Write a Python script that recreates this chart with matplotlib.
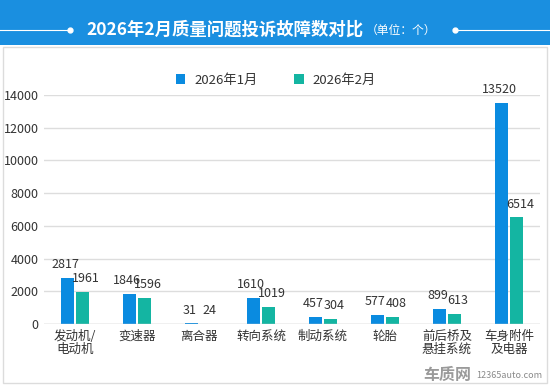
import matplotlib.pyplot as plt
import numpy as np
from matplotlib.patches import Rectangle

plt.rcParams['font.family'] = ['Noto Sans CJK SC', 'DejaVu Sans']

# data
categories = ['发动机/\n电动机', '变速器', '离合器', '转向系统', '制动系统', '轮胎', '前后桥及\n悬挂系统', '车身附件\n及电器']
jan = [2817, 1846, 31, 1610, 457, 577, 899, 13520]
feb = [1961, 1596, 24, 1019, 304, 408, 613, 6514]
series_names = ['2026年1月', '2026年2月']
yticks = [0, 2000, 4000, 6000, 8000, 10000, 12000, 14000]

c_jan = '#0a8be0'
c_feb = '#14b5a2'
txt = '#333333'

fig = plt.figure(figsize=(5.5, 3.86), dpi=100)
fig.patch.set_facecolor('white')

# header band
fig.patches.append(Rectangle((0, 1 - 45 / 386), 1, 45 / 386, transform=fig.transFigure,
                             facecolor='#1a8fe0', edgecolor='none', zorder=-10))
# panel border
fig.patches.append(Rectangle((3 / 550, 3 / 386), 544 / 550, (386 - 50) / 386, transform=fig.transFigure,
                             facecolor='white', edgecolor='#dcdcdc', lw=1, zorder=-10))

ty = 1 - 30 / 386
fig.text(86 / 550, ty, '2026年2月质量问题投诉故障数对比', color='white', fontsize=12.5,
         fontweight='bold', va='center', ha='left')
fig.text(366 / 550, ty, '（单位：个）', color='white', fontsize=8.5, va='center', ha='left')
fig.add_artist(plt.Line2D([0, 68 / 550], [ty, ty], color='white', lw=0.8, transform=fig.transFigure))
fig.add_artist(plt.Line2D([458 / 550, 1], [ty, ty], color='white', lw=0.8, transform=fig.transFigure))
fig.add_artist(plt.Line2D([70 / 550, 455 / 550], [ty, ty], ls='none', marker='o', ms=3.5,
                          color='white', transform=fig.transFigure))

ax = fig.add_axes([44 / 550, 62 / 386, 496 / 550, 229 / 386])
ax.set_facecolor('none')
x = np.arange(len(categories))
w = 0.218
off = 0.121
b1 = ax.bar(x - off, jan, w, color=c_jan, label=series_names[0], zorder=3)
b2 = ax.bar(x + off, feb, w, color=c_feb, label=series_names[1], zorder=3)

# value labels, nudged apart a little like the original
for xi, v in zip(x - off, jan):
    ax.annotate(str(v), (xi, v), xytext=(-1.5, 5), textcoords='offset points', ha='center', va='bottom',
                fontsize=9, color=txt, annotation_clip=False, zorder=5)
for xi, v in zip(x + off, feb):
    ax.annotate(str(v), (xi, v), xytext=(2.5, 5), textcoords='offset points', ha='center', va='bottom',
                fontsize=9, color=txt, annotation_clip=False, zorder=5)

ax.set_xlim(-0.5, len(categories) - 0.5)
ax.set_ylim(0, 14000)
ax.set_yticks(yticks)
ax.set_yticklabels([str(t) for t in yticks], fontsize=9, color=txt)
ax.set_xticks(x)
ax.set_xticklabels(categories, fontsize=9, color=txt, linespacing=1.05)
ax.tick_params(length=0, pad=4)
ax.grid(axis='y', color='#dddddd', lw=1, zorder=0)
for s in ax.spines.values():
    s.set_visible(False)
ax.axhline(0, color='#d0d0d0', lw=1, zorder=4)

fig.legend(handles=[b1, b2], labels=series_names, loc='center', bbox_to_anchor=(276 / 550, 1 - 80 / 386),
           ncol=2, frameon=False, fontsize=9.5, handlelength=0.7, handleheight=0.7,
           columnspacing=2.8, handletextpad=0.7, labelcolor=txt)

fig.text(423 / 550, 11 / 386, '车质网', fontsize=11.5, color='#9a9a9a', fontweight='bold', ha='left', va='center')
fig.text(476 / 550, 10 / 386, '12365auto.com', fontsize=6.5, color='#8a8a8a', ha='left', va='center')

fig.savefig('out.png', dpi=100)
